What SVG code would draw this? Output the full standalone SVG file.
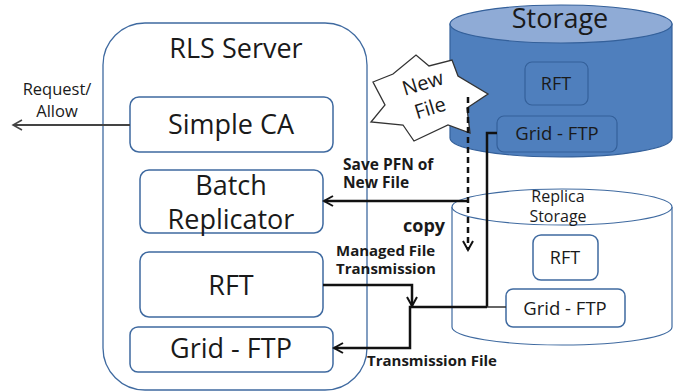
<svg xmlns="http://www.w3.org/2000/svg" width="681" height="391" viewBox="0 0 681 391">
<defs>
<style>
.t{font-family:"Open Sans","Liberation Sans",sans-serif;fill:#1a1a1a;text-anchor:middle}
.b{font-family:"Open Sans","Liberation Sans",sans-serif;fill:#1a1a1a;font-weight:bold}
.box{fill:#fff;stroke:#3f6aa0;stroke-width:1.5}
.sbox{fill:#4f7fbd;stroke:#34609a;stroke-width:1.2}
.ln{fill:none;stroke:#111;stroke-width:2.5}
</style>
<marker id="ah" viewBox="0 0 12 12" refX="10" refY="6" markerWidth="12" markerHeight="12" markerUnits="userSpaceOnUse" orient="auto">
<path d="M1,1 L10,6 L1,11" fill="none" stroke="#111" stroke-width="2"/>
</marker>
<marker id="ah2" viewBox="0 0 12 12" refX="10" refY="6" markerWidth="12" markerHeight="12" markerUnits="userSpaceOnUse" orient="auto">
<path d="M1,1 L10,6 L1,11" fill="none" stroke="#444" stroke-width="1.5"/>
</marker>
</defs>
<rect width="681" height="391" fill="#fff"/>

<g id="rls-server">
<rect x="103" y="23" width="264" height="367" rx="42" ry="42" fill="#fff" stroke="#3f6aa0" stroke-width="1.3"/>
<text class="t" x="236" y="58" font-size="27">RLS Server</text>
</g>

<g id="storage">
<path d="M450,24 L450,138 A111,19 0 0 0 672,138 L672,24 Z" fill="#4f7fbd" stroke="#34609a" stroke-width="1.2"/>
<ellipse cx="561" cy="24" rx="111" ry="19" fill="#8fabd6" stroke="#34609a" stroke-width="1.2"/>
<text class="t" x="560" y="28" font-size="27">Storage</text>
</g>
<g id="storage-rft">
<rect class="sbox" x="525" y="62" width="63" height="43" rx="7"/>
<text class="t" x="556" y="90" font-size="18">RFT</text>
</g>
<g id="storage-gridftp">
<rect class="sbox" x="497" y="116" width="120" height="36" rx="7"/>
<text class="t" x="557" y="140" font-size="18.5">Grid - FTP</text>
</g>

<g id="replica-storage">
<path d="M452,207 L452,327 A110,18 0 0 0 672,327 L672,207" fill="#fff" stroke="#3f6aa0" stroke-width="1.2"/>
<ellipse cx="562" cy="207" rx="110" ry="18" fill="#fff" stroke="#3f6aa0" stroke-width="1.2"/>
<text class="t" x="558" y="202" font-size="16" fill="#333">Replica</text>
<text class="t" x="558" y="222" font-size="16" fill="#333">Storage</text>
</g>
<g id="replica-rft">
<rect class="box" x="533" y="235" width="65" height="45" rx="8"/>
<text class="t" x="565" y="264" font-size="18">RFT</text>
</g>
<g id="replica-gridftp">
<rect class="box" x="506" y="289" width="119" height="38" rx="7"/>
<text class="t" x="565" y="315" font-size="18.5">Grid - FTP</text>
</g>

<g id="new-file">
<polygon points="373,82 393,74 416,55 429,66 452,60 458,76 488,94 467,108 470,133 448,125 414,141 403,125 371,122 385,105" fill="#fff" stroke="#333" stroke-width="1.3"/>
<text class="t" x="423" y="90" font-size="20" transform="rotate(-17 423 84)">New</text>
<text class="t" x="430" y="115" font-size="20" transform="rotate(-17 430 108)">File</text>
</g>

<g id="simple-ca">
<rect class="box" x="130" y="97" width="203" height="55" rx="9"/>
<text class="t" x="231" y="134" font-size="27">Simple CA</text>
</g>
<g id="batch-replicator">
<rect class="box" x="140" y="170" width="183" height="63" rx="9"/>
<text class="t" x="231" y="195" font-size="27">Batch</text>
<text class="t" x="231" y="229" font-size="27">Replicator</text>
</g>
<g id="rft">
<rect class="box" x="140" y="252" width="183" height="65" rx="9"/>
<text class="t" x="231" y="295" font-size="27">RFT</text>
</g>
<g id="grid-ftp">
<rect class="box" x="130" y="327" width="203" height="45" rx="8"/>
<text class="t" x="231" y="358" font-size="27">Grid - FTP</text>
</g>

<g id="connectors">
<line x1="130" y1="125" x2="13" y2="125" stroke="#444" stroke-width="1.8" marker-end="url(#ah2)"/>
<line x1="468" y1="201" x2="324" y2="201" class="ln" marker-end="url(#ah)"/>
<line x1="468" y1="97" x2="468" y2="250" stroke="#111" stroke-width="2.5" stroke-dasharray="6,4" fill="none" marker-end="url(#ah)"/>
<polyline class="ln" points="497,133 487,133 487,307"/>
<line x1="412" y1="307" x2="487" y2="307" class="ln"/>
<line x1="487" y1="307" x2="506" y2="307" stroke="#333" stroke-width="1.5"/>
<polyline class="ln" points="323,285 412,285 412,306" marker-end="url(#ah)"/>
<polyline class="ln" points="412,307 410,307 410,348 334,348" marker-end="url(#ah)"/>
</g>

<g id="labels">
<text class="t" x="57" y="95" font-size="16.5">Request/</text>
<text class="t" x="57" y="117" font-size="16.5">Allow</text>
<text class="b" x="343" y="170" font-size="15.5">Save PFN of</text>
<text class="b" x="343" y="188" font-size="15.5">New File</text>
<text class="b" x="403" y="232" font-size="18">copy</text>
<text class="b" x="336" y="256" font-size="15">Managed File</text>
<text class="b" x="336" y="274" font-size="15">Transmission</text>
<text class="b" x="367" y="366" font-size="15">Transmission File</text>
</g>
</svg>
